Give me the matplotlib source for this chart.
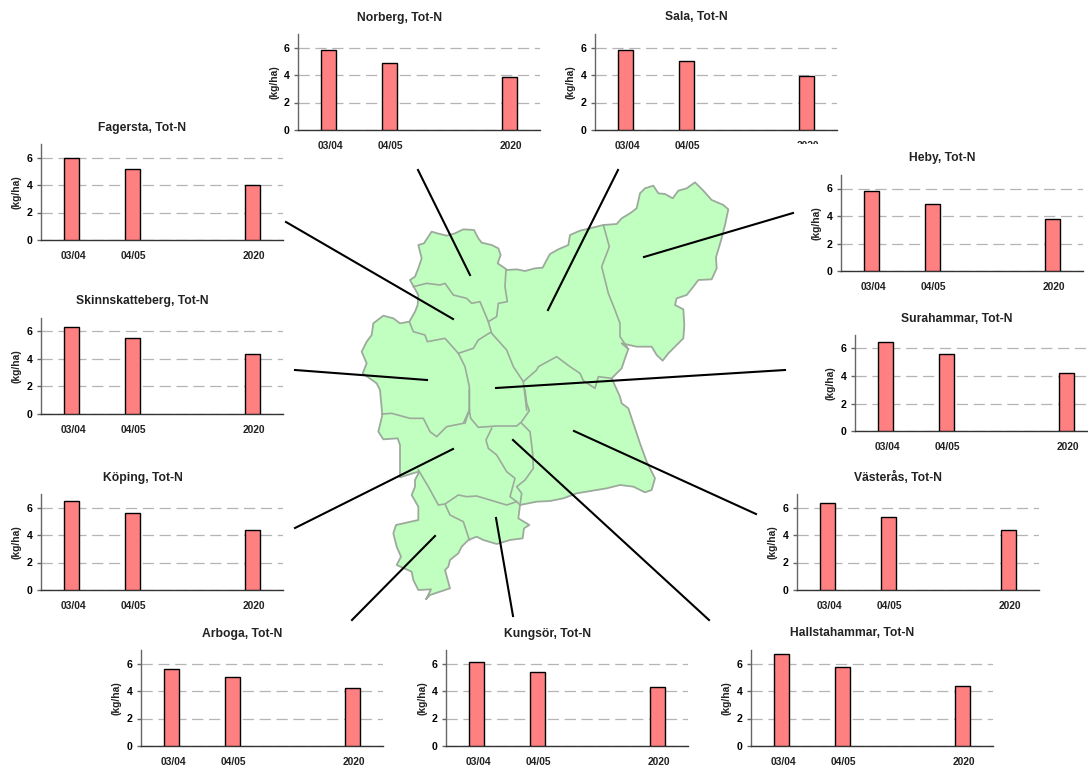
import matplotlib
matplotlib.use("Agg")
from matplotlib import pyplot as plt
from matplotlib.patches import Polygon, Rectangle
from matplotlib.transforms import ScaledTranslation

plt.rcParams['font.family'] = ['Liberation Sans', 'DejaVu Sans']
plt.rcParams['font.weight'] = 'bold'

W, H = 1088, 767
nan = float('nan')

periods = ['03/04', '04/05', '', '2020']

fagersta = [6.0, 5.2, nan, 4.0]
norberg = [5.8, 4.9, nan, 3.85]
sala = [5.85, 5.0, nan, 3.9]
heby = [5.8, 4.9, nan, 3.8]
skinnskatteberg = [6.35, 5.55, nan, 4.35]
surahammar = [6.5, 5.6, nan, 4.2]
koping = [6.45, 5.6, nan, 4.35]
vasteras = [6.35, 5.3, nan, 4.4]
arboga = [5.6, 5.0, nan, 4.2]
kungsor = [6.1, 5.35, nan, 4.3]
hallstahammar = [6.7, 5.75, nan, 4.4]

# namn, varden, vanster kant, nederkant (pixlar)
charts = [
    ('Norberg', norberg, 298, 130),
    ('Sala', sala, 595, 130),
    ('Fagersta', fagersta, 41, 240),
    ('Heby', heby, 841, 271),
    ('Skinnskatteberg', skinnskatteberg, 41, 414),
    ('Surahammar', surahammar, 855, 431),
    ('Köping', koping, 41, 590),
    ('Västerås', vasteras, 797, 590),
    ('Arboga', arboga, 141, 746),
    ('Kungsör', kungsor, 446, 746),
    ('Hallstahammar', hallstahammar, 751, 746),
]

# kartans ytterkant, avlast i tva utsnitt
outline_top = [
    (245, 185), (262, 190), (290, 197), (315, 190), (340, 178), (372, 180), (385, 205), (395, 218),
    (425, 225), (445, 235), (452, 255), (443, 280), (465, 295), (470, 300), (500, 298), (525, 303),
    (555, 295), (578, 293), (590, 270), (600, 252), (625, 238), (655, 225), (660, 195), (690, 182),
    (720, 175), (760, 165), (800, 162), (815, 145), (840, 130), (860, 115), (870, 70), (885, 55),
    (910, 47), (925, 70), (945, 72), (968, 85), (985, 62), (1010, 55), (1035, 37), (1060, 62),
    (1085, 90), (1120, 105), (1135, 118), (1125, 165), (1112, 215), (1098, 262), (1100, 295),
    (1085, 328), (1045, 330), (1030, 350), (1010, 375), (980, 385), (975, 405), (1000, 418),
    (1003, 465), (1000, 505), (975, 530), (955, 550), (938, 572), (920, 555), (905, 530), (860, 530),
    (815, 520), (835, 537), (825, 565), (815, 595), (785, 625), (810, 680),
]
outline_bottom = [
    (815, 40), (835, 55), (850, 100), (870, 160), (890, 215), (915, 265), (905, 300), (885, 307),
    (850, 290), (810, 285), (770, 295), (740, 300), (680, 310), (640, 325), (600, 333), (560, 335),
    (510, 345), (505, 385), (538, 405), (522, 415), (518, 445), (480, 450), (440, 462), (400, 450),
    (380, 440), (355, 450), (335, 470), (325, 490), (300, 510), (295, 530), (285, 540), (300, 595),
    (240, 615), (228, 628), (243, 598), (205, 600), (190, 570), (185, 545), (140, 525), (153, 500),
    (140, 470), (130, 430), (138, 405), (205, 390), (205, 350), (185, 315), (195, 290), (195, 270),
    (208, 245), (195, 248), (150, 262), (150, 205), (150, 165), (143, 145), (100, 148), (85, 125),
    (97, 75), (90, 0),
]
outline_left = [
    (80, 640), (38, 610), (50, 580), (35, 545), (50, 515), (65, 495), (70, 460), (100, 437),
    (130, 445), (150, 460), (178, 455), (195, 425), (203, 405), (205, 375), (180, 330), (195, 320),
    (205, 295), (215, 265), (205, 225), (222, 220), (225, 215),
]

# inre granser
borders_top = [
    [(468, 298), (465, 350), (472, 395), (445, 400), (440, 440), (415, 455)],
    [(190, 350), (230, 340), (270, 345), (285, 340), (310, 375), (350, 385), (365, 400), (390, 395),
     (415, 455), (425, 490)],
    [(178, 455), (190, 485), (225, 495), (232, 515), (285, 505), (325, 550), (370, 535), (385, 510),
     (420, 488)],
    [(325, 550), (345, 590), (358, 650), (358, 720)],
    [(425, 490), (470, 540), (490, 590), (520, 635), (530, 720)],
    [(520, 635), (560, 600), (565, 590), (620, 560), (660, 590), (690, 610), (700, 632), (735, 655),
     (745, 620), (785, 625)],
    [(760, 165), (778, 230), (755, 290), (775, 370), (795, 420), (810, 460), (810, 500), (835, 537)],
]
borders_bottom = [
    [(358, 0), (358, 60), (345, 100)],
    [(525, 0), (530, 40), (538, 62), (515, 95), (500, 108), (440, 108), (385, 112), (362, 85), (358, 60)],
    [(95, 72), (125, 70), (180, 85), (220, 85), (240, 125), (260, 140), (290, 110), (340, 100), (358, 60)],
    [(425, 115), (408, 150), (415, 175), (440, 195), (470, 245), (495, 265), (480, 320), (500, 335), (510, 345)],
    [(515, 100), (540, 125), (548, 190), (550, 235), (525, 270), (500, 290), (515, 310), (510, 345)],
    [(205, 240), (235, 290), (265, 345), (285, 342)],
    [(285, 342), (325, 315), (350, 320), (380, 318), (420, 330), (470, 345), (500, 335)],
    [(285, 342), (300, 375), (340, 395), (358, 450)],
]

# linjer fran diagram till kommun
leaders = [
    ((418, 170), (470, 275)),
    ((618, 170), (548, 310)),
    ((286, 222), (453, 319)),
    ((793, 213), (644, 257)),
    ((295, 370), (427, 380)),
    ((785, 370), (496, 388)),
    ((756, 514), (574, 431)),
    ((295, 528), (453, 449)),
    ((352, 620), (435, 536)),
    ((513, 616), (496, 518)),
    ((709, 620), (513, 440)),
]


def from_top(pts):
    return [(350 + x / 3, 170 + y / 3) for x, y in pts]


def from_bottom(pts):
    return [(350 + x / 3, 390 + y / 3) for x, y in pts]


fig = plt.figure(figsize=(W / 100, H / 100), dpi=100)


def small_chart(name, values, left, bottom):
    ax = fig.add_axes([left / W, 1 - bottom / H, 242 / W, 96.25 / H])
    xs = range(len(periods))
    ax.bar(xs, values, width=0.25, color='#ff8080', edgecolor='black', linewidth=1.0, zorder=3)
    ax.set_xlim(-0.51, 3.5)
    ax.set_ylim(0, 7)
    ax.set_yticks([0, 2, 4, 6])
    ax.set_xticks(list(xs))
    ax.set_xticklabels(periods, fontsize=7.4, fontweight='bold', color='#222222')
    ax.tick_params(axis='x', length=0, pad=8)
    # etiketterna ligger en pixel till hoger om staplarna
    for label in ax.get_xticklabels():
        label.set_transform(label.get_transform() + ScaledTranslation(1.2 / 100, 0, fig.dpi_scale_trans))
    ax.tick_params(axis='y', length=3, width=1.0, color='#666666', labelsize=7.6, pad=3)
    ax.grid(axis='y', color='#b4b4b4', linewidth=0.9, linestyle=(0, (9, 4.5)), zorder=1)
    ax.set_axisbelow(True)
    for s in ['top', 'right']:
        ax.spines[s].set_visible(False)
    ax.spines['left'].set_color('#666666')
    ax.spines['left'].set_linewidth(1.0)
    ax.spines['bottom'].set_color('#333333')
    ax.spines['bottom'].set_linewidth(1.0)
    ax.patch.set_alpha(0)
    fig.text((left + 101.5) / W, 1 - (bottom - 112.5) / H, name + ', Tot-N', fontsize=8.7, fontweight='bold',
             color='#222222', ha='center', va='center')
    fig.text((left - 24) / W, 1 - (bottom - 48) / H, '(kg/ha)', fontsize=7.4, fontweight='bold',
             color='#222222', rotation=90, ha='center', va='center')


for name, values, left, bottom in charts:
    small_chart(name, values, left, bottom)

# kartan och linjerna i ett overlager med pixelkoordinater
over = fig.add_axes([0, 0, 1, 1], zorder=5)
over.set_xlim(0, W)
over.set_ylim(H, 0)
over.axis('off')

# kartbilden tacker en bit av Salas "2020"
over.add_patch(Rectangle((770, 144), 70, 14, facecolor='white', edgecolor='none'))

outline = from_top(outline_top) + from_bottom(outline_bottom) + from_top(outline_left)
over.add_patch(Polygon(outline, closed=True, facecolor='#c0ffc0', edgecolor='#9caa9c', linewidth=1.3,
                       joinstyle='round'))
for line in borders_top:
    pts = from_top(line)
    over.plot([p[0] for p in pts], [p[1] for p in pts], color='#9caa9c', linewidth=1.2)
for line in borders_bottom:
    pts = from_bottom(line)
    over.plot([p[0] for p in pts], [p[1] for p in pts], color='#9caa9c', linewidth=1.2)

for a, b in leaders:
    over.plot([a[0], b[0]], [a[1], b[1]], color='black', linewidth=1.5)

fig.savefig('out.png', dpi=100)
